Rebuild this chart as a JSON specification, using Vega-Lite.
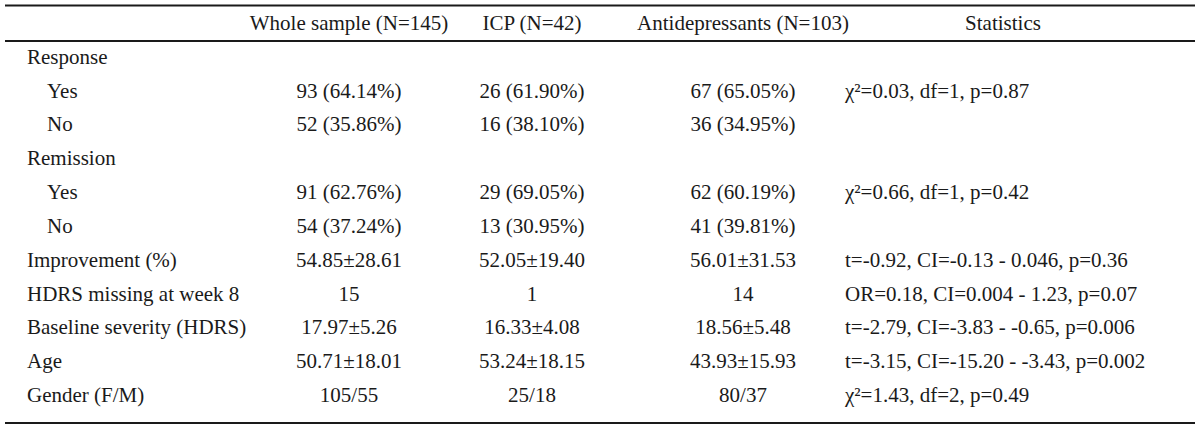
{
  "$schema": "https://vega.github.io/schema/vega-lite/v6.json",
  "width": 1190,
  "height": 431,
  "autosize": {"type": "none"},
  "padding": {"left": 5, "right": 5, "top": 0, "bottom": 0},
  "background": "white",
  "config": {"view": {"stroke": null}, "text": {"font": "Liberation Serif", "fontSize": 21, "color": "#1a1a1a", "baseline": "middle"}},
  "datasets": {
    "rows": [
      {"r": 0, "label": "", "indent": false, "whole": "Whole sample (N=145)", "icp": "ICP (N=42)", "anti": "Antidepressants (N=103)", "stats": "Statistics"},
      {"r": 1, "label": "Response", "indent": false, "whole": "", "icp": "", "anti": "", "stats": ""},
      {"r": 2, "label": "Yes", "indent": true, "whole": "93 (64.14%)", "icp": "26 (61.90%)", "anti": "67 (65.05%)", "stats": "χ²=0.03, df=1, p=0.87"},
      {"r": 3, "label": "No", "indent": true, "whole": "52 (35.86%)", "icp": "16 (38.10%)", "anti": "36 (34.95%)", "stats": ""},
      {"r": 4, "label": "Remission", "indent": false, "whole": "", "icp": "", "anti": "", "stats": ""},
      {"r": 5, "label": "Yes", "indent": true, "whole": "91 (62.76%)", "icp": "29 (69.05%)", "anti": "62 (60.19%)", "stats": "χ²=0.66, df=1, p=0.42"},
      {"r": 6, "label": "No", "indent": true, "whole": "54 (37.24%)", "icp": "13 (30.95%)", "anti": "41 (39.81%)", "stats": ""},
      {"r": 7, "label": "Improvement (%)", "indent": false, "whole": "54.85±28.61", "icp": "52.05±19.40", "anti": "56.01±31.53", "stats": "t=-0.92, CI=-0.13 - 0.046, p=0.36"},
      {"r": 8, "label": "HDRS missing at week 8", "indent": false, "whole": "15", "icp": "1", "anti": "14", "stats": "OR=0.18, CI=0.004 - 1.23, p=0.07"},
      {"r": 9, "label": "Baseline severity (HDRS)", "indent": false, "whole": "17.97±5.26", "icp": "16.33±4.08", "anti": "18.56±5.48", "stats": "t=-2.79, CI=-3.83 - -0.65, p=0.006"},
      {"r": 10, "label": "Age", "indent": false, "whole": "50.71±18.01", "icp": "53.24±18.15", "anti": "43.93±15.93", "stats": "t=-3.15, CI=-15.20 - -3.43, p=0.002"},
      {"r": 11, "label": "Gender (F/M)", "indent": false, "whole": "105/55", "icp": "25/18", "anti": "80/37", "stats": "χ²=1.43, df=2, p=0.49"}
    ],
    "rules": [
      {"pos": -0.55},
      {"pos": 0.5},
      {"pos": 11.8}
    ]
  },
  "layer": [
    {
      "data": {"name": "rules"},
      "mark": {"type": "rule", "strokeWidth": 2, "color": "#1a1a1a"},
      "encoding": {
        "y": {"field": "pos", "type": "quantitative", "axis": null, "scale": {"domain": [0, 11], "range": [24, 396], "zero": false, "nice": false}}
      }
    },
    {
      "data": {"name": "rows"},
      "transform": [{"filter": "!datum.indent"}],
      "mark": {"type": "text", "align": "left"},
      "encoding": {
        "x": {"datum": "label", "type": "nominal", "bandPosition": 0, "axis": null, "scale": {"type": "band", "domain": ["label"], "range": [22, 270], "paddingInner": 0, "paddingOuter": 0}},
        "y": {"field": "r", "type": "quantitative", "axis": null},
        "text": {"field": "label"}
      }
    },
    {
      "data": {"name": "rows"},
      "transform": [{"filter": "datum.indent"}],
      "mark": {"type": "text", "align": "left", "dx": 20},
      "encoding": {
        "x": {"datum": "label", "type": "nominal", "bandPosition": 0, "axis": null, "scale": {"type": "band", "domain": ["label"], "range": [22, 270], "paddingInner": 0, "paddingOuter": 0}},
        "y": {"field": "r", "type": "quantitative", "axis": null},
        "text": {"field": "label"}
      }
    },
    {
      "data": {"name": "rows"},
      "mark": {"type": "text", "align": "center"},
      "encoding": {
        "x": {"datum": "whole", "type": "nominal", "bandPosition": 0.5, "axis": null, "scale": {"type": "band", "domain": ["whole"], "range": [270, 418], "paddingInner": 0, "paddingOuter": 0}},
        "y": {"field": "r", "type": "quantitative", "axis": null},
        "text": {"field": "whole"}
      }
    },
    {
      "data": {"name": "rows"},
      "mark": {"type": "text", "align": "center"},
      "encoding": {
        "x": {"datum": "icp", "type": "nominal", "bandPosition": 0.5, "axis": null, "scale": {"type": "band", "domain": ["icp"], "range": [418, 636], "paddingInner": 0, "paddingOuter": 0}},
        "y": {"field": "r", "type": "quantitative", "axis": null},
        "text": {"field": "icp"}
      }
    },
    {
      "data": {"name": "rows"},
      "mark": {"type": "text", "align": "center"},
      "encoding": {
        "x": {"datum": "anti", "type": "nominal", "bandPosition": 0.5, "axis": null, "scale": {"type": "band", "domain": ["anti"], "range": [636, 840], "paddingInner": 0, "paddingOuter": 0}},
        "y": {"field": "r", "type": "quantitative", "axis": null},
        "text": {"field": "anti"}
      }
    },
    {
      "data": {"name": "rows"},
      "transform": [{"filter": "datum.r > 0"}],
      "mark": {"type": "text", "align": "left"},
      "encoding": {
        "x": {"datum": "stats", "type": "nominal", "bandPosition": 0, "axis": null, "scale": {"type": "band", "domain": ["stats"], "range": [840, 1156], "paddingInner": 0, "paddingOuter": 0}},
        "y": {"field": "r", "type": "quantitative", "axis": null},
        "text": {"field": "stats"}
      }
    },
    {
      "data": {"name": "rows"},
      "transform": [{"filter": "datum.r == 0"}],
      "mark": {"type": "text", "align": "center"},
      "encoding": {
        "x": {"datum": "stats", "type": "nominal", "bandPosition": 0.5, "axis": null, "scale": {"type": "band", "domain": ["stats"], "range": [840, 1156], "paddingInner": 0, "paddingOuter": 0}},
        "y": {"field": "r", "type": "quantitative", "axis": null},
        "text": {"field": "stats"}
      }
    }
  ],
  "resolve": {"scale": {"x": "independent"}}
}
